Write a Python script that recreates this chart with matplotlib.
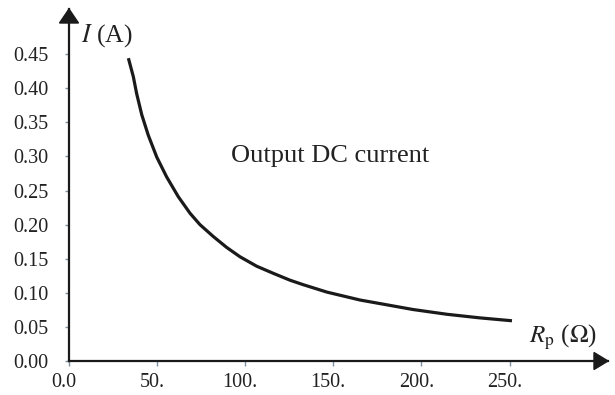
import matplotlib
matplotlib.use("Agg")
import matplotlib.pyplot as plt
from matplotlib.patches import Polygon
from matplotlib.transforms import IdentityTransform, ScaledTranslation

# Data
R_ohm = [33.7, 36.5, 38.4, 41.3, 45.0, 49.8, 55.4, 62.0, 68.7, 74.3, 81.9,
         89.5, 97.0, 106.5, 115.9, 125.4, 132.8, 146.4, 165.2, 181.0, 195.2,
         214.5, 233.3, 251.4]
I_amp = [0.444, 0.417, 0.392, 0.361, 0.331, 0.299, 0.270, 0.241, 0.2166, 0.2000,
         0.1825, 0.1665, 0.1529, 0.1390, 0.1286, 0.1185, 0.1120, 0.101, 0.0894,
         0.0821, 0.0755, 0.0685, 0.0632, 0.0590]
x_ticks = [0, 50, 100, 150, 200, 250]
x_labels = ["0.0", "50.", "100.", "150.", "200.", "250."]
y_ticks = [0.00, 0.05, 0.10, 0.15, 0.20, 0.25, 0.30, 0.35, 0.40, 0.45]
y_labels = ["0.00", "0.05", "0.10", "0.15", "0.20", "0.25", "0.30", "0.35", "0.40", "0.45"]

plt.rcParams['font.family'] = ['Liberation Serif', 'DejaVu Serif']
W, H = 615, 395
fig = plt.figure(figsize=(W / 100, H / 100), dpi=100)
ax_l, ax_r, ax_b, ax_t = 69, 608, 361, 9
ax = fig.add_axes([ax_l / W, (H - ax_b) / H, (ax_r - ax_l) / W, (ax_b - ax_t) / H])
ax.set_xlim(0, (ax_r - ax_l) / 1.762)
ax.set_ylim(0, (ax_b - ax_t) / 682.0)

ax.plot(R_ohm, I_amp, color='#1a1a1a', lw=2.3, solid_capstyle='butt',
        solid_joinstyle='round')

for s in ['top', 'right']:
    ax.spines[s].set_visible(False)
for s in ['left', 'bottom']:
    ax.spines[s].set_linewidth(1.6)
    ax.spines[s].set_color('#1a1a1a')

ax.set_xticks(x_ticks)
ax.set_xticklabels(x_labels)
ax.set_yticks(y_ticks)
ax.set_yticklabels(y_labels)
ax.tick_params(axis='y', direction='out', length=3, width=1, color='#8090a0',
               pad=12, labelsize=14.5, labelcolor='#222222')
ax.tick_params(axis='x', direction='out', length=3.6, width=1, color='#8090a0',
               pad=5, labelsize=14.5, labelcolor='#222222')
off = ScaledTranslation(-5 / 100, 0, fig.dpi_scale_trans)
for lab in ax.get_xticklabels():
    lab.set_transform(lab.get_transform() + off)

# arrow heads (display pixel coordinates)
fig.add_artist(Polygon([(608, H - 361), (594, H - 361 + 8.5), (594, H - 361 - 8.5)],
                       closed=True, color='#1a1a1a', transform=IdentityTransform()))
fig.add_artist(Polygon([(69, H - 9), (59.5, H - 23), (78.5, H - 23)],
                       closed=True, color='#1a1a1a', transform=IdentityTransform()))

fig.text(81 / W, (H - 36) / H, r"$I$ (A)", fontsize=18.5, va='center', ha='left',
         color='#222222', math_fontfamily='stix')
fig.text(529 / W, (H - 337) / H, r"$R_{\mathrm{p}}$ ($\Omega$)", fontsize=18, va='center',
         ha='left', color='#222222', math_fontfamily='stix')
fig.text(231 / W, (H - 156) / H, "Output DC current", fontsize=19, va='center', ha='left',
         color='#222222')

fig.savefig("out.png", dpi=100)
